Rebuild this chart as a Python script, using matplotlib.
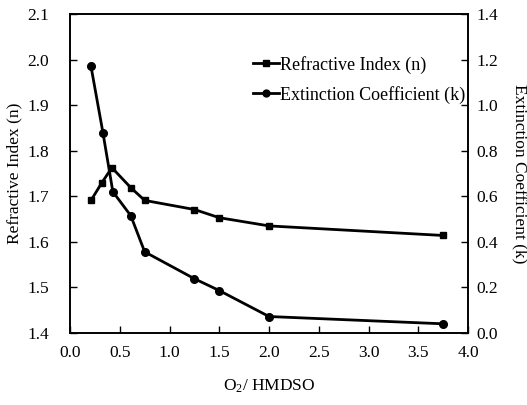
import numpy as np
import matplotlib.pyplot as plt

plt.rcParams['font.family'] = ['Liberation Serif', 'DejaVu Serif']
plt.rcParams['mathtext.fontset'] = 'custom'
plt.rcParams['mathtext.rm'] = 'Liberation Serif'
plt.rcParams['mathtext.it'] = 'Liberation Serif:italic'

# data
ratio_n = [0.21, 0.32, 0.42, 0.61, 0.75, 1.25, 1.5, 2.0, 3.75]
refr_n = [1.691, 1.73, 1.763, 1.719, 1.691, 1.671, 1.653, 1.635, 1.614]
ratio_k = [0.21, 0.33, 0.43, 0.61, 0.75, 1.25, 1.5, 2.0, 3.75]
ext_k = [1.171, 0.88, 0.62, 0.515, 0.356, 0.238, 0.186, 0.072, 0.04]

fig = plt.figure(figsize=(5.27, 4.05), dpi=100)
ax = fig.add_axes([0.133, 0.178, 0.755, 0.787])
ax2 = ax.twinx()

l1, = ax.plot(ratio_n, refr_n, '-s', color='black', lw=2, ms=5,
              label='Refractive Index (n)')
l2, = ax2.plot(ratio_k, ext_k, '-o', color='black', lw=2, ms=5.5,
               label='Extinction Coefficient (k)')

ax.set_xlim(0, 4.0)
ax.set_ylim(1.4, 2.1)
ax2.set_ylim(0, 1.4)
ax.set_xticks(np.arange(0, 4.01, 0.5))
ax.set_yticks(np.arange(1.4, 2.101, 0.1))
ax2.set_yticks(np.arange(0, 1.401, 0.2))
ax.set_xticklabels([f'{v:.1f}' for v in np.arange(0, 4.01, 0.5)])
ax.set_yticklabels([f'{v:.1f}' for v in np.arange(1.4, 2.101, 0.1)])
ax2.set_yticklabels([f'{v:.1f}' for v in np.arange(0, 1.401, 0.2)])

for a in (ax, ax2):
    a.tick_params(direction='in', length=5, width=1, labelsize=12.5)
    for s in a.spines.values():
        s.set_linewidth(1.2)
ax.tick_params(axis='x', pad=9)
ax.tick_params(axis='y', pad=15)
ax2.tick_params(axis='y', pad=6)

ax.set_xlabel('O$_2$/ HMDSO', fontsize=12.5, labelpad=12)
ax.set_ylabel('Refractive Index (n)', fontsize=12.5, labelpad=4)
ax2.set_ylabel('Extinction Coefficient (k)', fontsize=12.5, rotation=270,
               labelpad=21)

leg = ax2.legend(handles=[l1, l2], loc='upper left',
                 bbox_to_anchor=(0.42, 0.92), frameon=False, fontsize=13,
                 handlelength=1.4, handletextpad=0.05, labelspacing=0.65,
                 markerscale=0.9)
for t in leg.get_texts():
    t.set_clip_on(True)
    t.set_clip_box(ax2.bbox)

fig.savefig('out.png', dpi=100)
